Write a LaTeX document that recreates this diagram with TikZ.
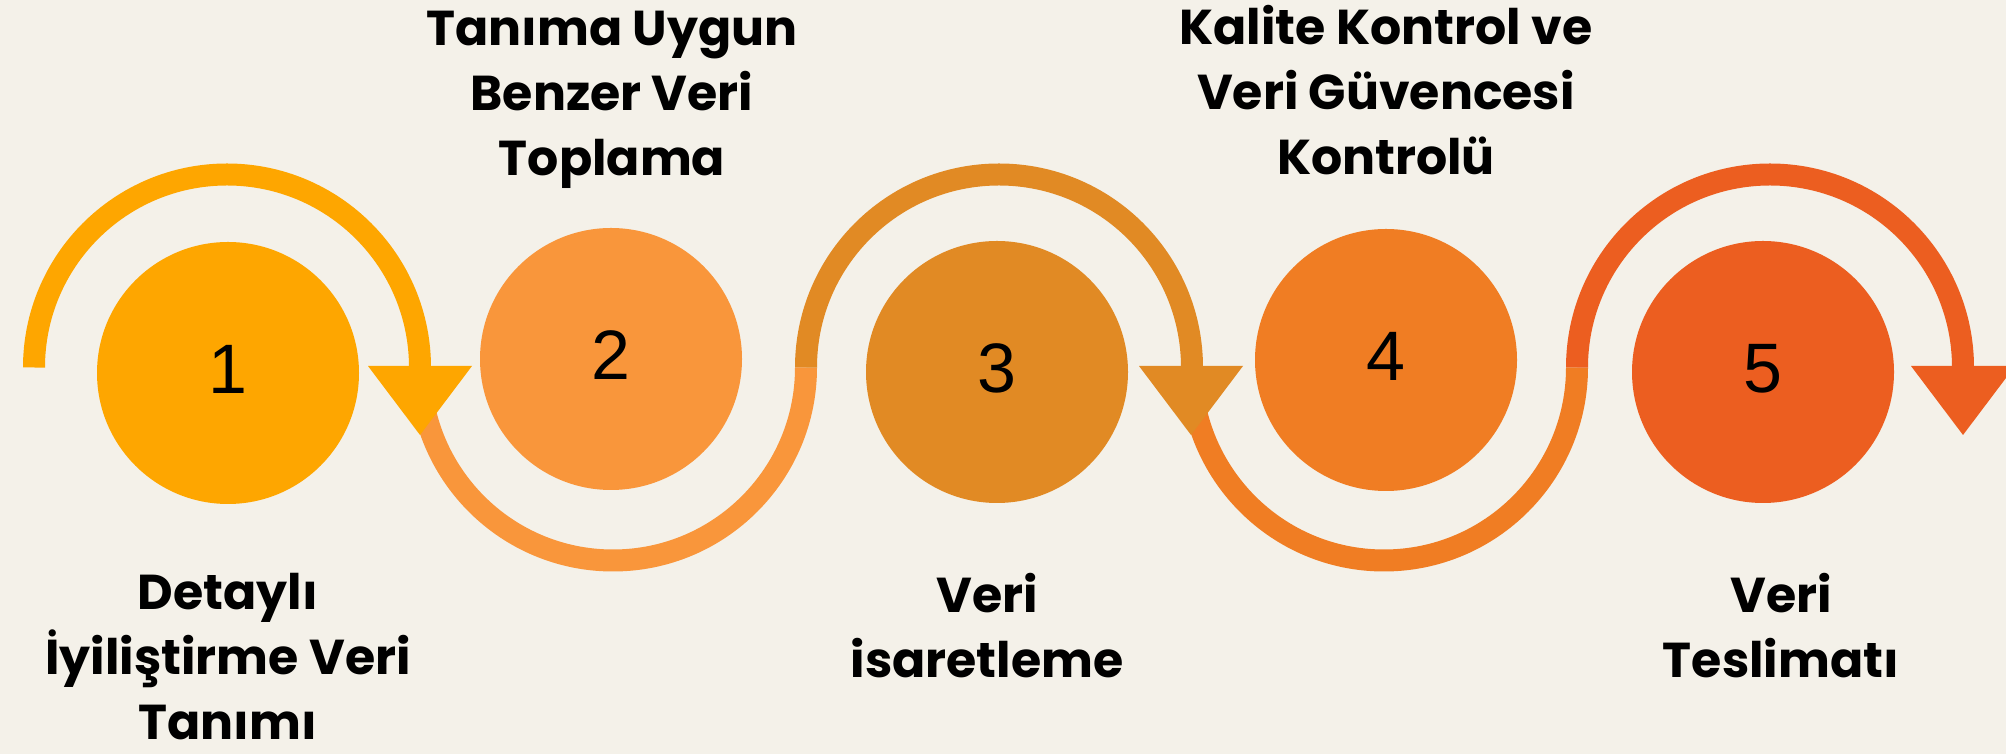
\documentclass[tikz,border=0pt]{standalone}
\usepackage{fontspec}
\setmainfont{Poppins}
\newfontfamily\labelfont{Poppins}
\newfontfamily\digitfont{Liberation Sans}
\definecolor{bgc}{HTML}{F4F1E9}
\definecolor{cA}{HTML}{FEA600}
\definecolor{cB}{HTML}{F9963B}
\definecolor{cC}{HTML}{E18A24}
\definecolor{cD}{HTML}{F07D23}
\definecolor{cE}{HTML}{EC5E20}
\begin{document}
\begin{tikzpicture}[x=1pt,y=1pt,
  stepcircle/.style={circle,inner sep=0pt,minimum size=262pt,text=black,
    font=\digitfont\fontsize{70}{70}\selectfont,text height=50pt,text depth=8pt},
  looparc/.style={line width=22pt},
  steplabel/.style={anchor=base,align=center,inner sep=0pt,text=black,
    font=\labelfont\bfseries\fontsize{49}{65}\selectfont}]
\useasboundingbox (0,0) rectangle (2006,754);
\clip (0,0) rectangle (2006,754);
\fill[bgc] (0,0) rectangle (2006,754);

% arc end points
\coordinate (a0) at (34,386.5);
\coordinate (a1) at (420,386.5);
\coordinate (a2) at (806,386.5);
\coordinate (a3) at (1191,386.5);
\coordinate (a4) at (1577,386.5);
\coordinate (a5) at (1963,386.5);

% circles
\node[stepcircle,fill=cA] (s1) at (228,381) {1};
\node[stepcircle,fill=cB] (s2) at (611,395) {2};
\node[stepcircle,fill=cC] (s3) at (997,382) {3};
\node[stepcircle,fill=cD] (s4) at (1386,394) {4};
\node[stepcircle,fill=cE] (s5) at (1763,382) {5};

% arcs
\draw[looparc,cA] (a0) arc[start angle=180,end angle=0,radius=193];
\draw[looparc,cB] (a1) arc[start angle=180,end angle=360,radius=193];
\draw[looparc,cC] (a2) arc[start angle=180,end angle=0,radius=193];
\draw[looparc,cD] (a3) arc[start angle=180,end angle=360,radius=193];
\draw[looparc,cE] (a4) arc[start angle=180,end angle=0,radius=193];

% arrow heads
\fill[cA] (a1) ++(-52,1.5) -- ++(104,0) -- ++(-52,-69) -- cycle;
\fill[cC] (a3) ++(-52,1.5) -- ++(104,0) -- ++(-52,-69) -- cycle;
\fill[cE] (a5) ++(-52,1.5) -- ++(104,0) -- ++(-52,-69) -- cycle;

% labels (anchor = baseline of last line)
\node[steplabel] (l1) at (228,14) {Detaylı\\İyiliştirme Veri\\Tanımı};
\node[steplabel] (l2) at (612,578) {Tanıma Uygun\\Benzer Veri\\Toplama};
\node[steplabel] (l3) at (987,76) {Veri\\isaretleme};
\node[steplabel] (l4) at (1386,579) {Kalite Kontrol ve\\Veri Güvencesi\\Kontrolü};
\node[steplabel] (l5) at (1781,76) {Veri\\Teslimatı};
\end{tikzpicture}
\end{document}
